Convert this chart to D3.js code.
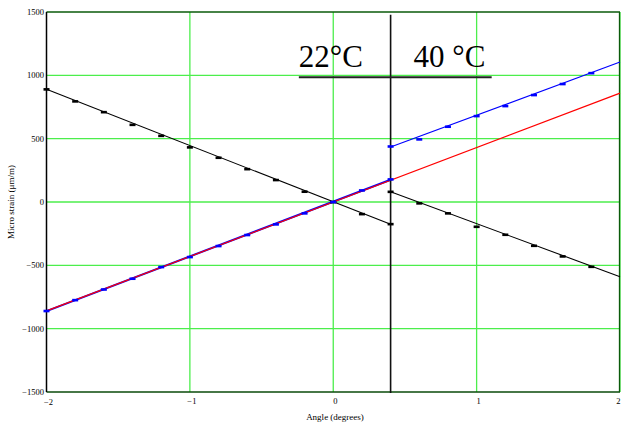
<!DOCTYPE html>
<html><head><meta charset="utf-8">
<script src="https://cdn.jsdelivr.net/npm/d3@7"></script>
<style>body{margin:0;background:#fff}svg{display:block}text{font-family:"Liberation Serif","Times New Roman",serif}</style>
</head><body><svg id="c" width="621" height="423"></svg>
<script>
// ---- data ----
const xTicks = [-2, -1, 0, 1, 2];
const yTicks = [-1500, -1000, -500, 0, 500, 1000, 1500];
const angles22 = [-2, -1.8, -1.6, -1.4, -1.2, -1, -0.8, -0.6, -0.4, -0.2, 0, 0.2, 0.4];
const black22 = [890, 795, 710, 610, 523, 432, 350, 260, 174, 82, 0, -95, -174];
const blue22 = [-860, -774, -690, -605, -513, -434, -347, -260, -176, -89, 0, 92, 179];
const angles40 = [0.4, 0.6, 0.8, 1.0, 1.2, 1.4, 1.6, 1.8];
const black40 = [81, -10, -89, -195, -258, -345, -429, -511];
const blue40 = [439, 495, 595, 679, 758, 845, 932, 1018];
// fitted lines: [x0, y0, x1, y1]
const fitBlack22 = [-2, 890, 0.4, -176];
const fitBlue22 = [-2, -862, 0.4, 176];
const fitBlack40 = [0.4, 81, 2, -590];
const fitBlue40 = [0.4, 434, 2, 1105];
const fitRed = [-2, -860, 2, 860];
const dividerX = 0.4, dividerTop = 1478;
const underline = [-0.24, 1.105, 985];
const labels = [{t: "22°C", x: -0.24, y: 1065}, {t: "40 °C", x: 0.56, y: 1065}];

// ---- layout ----
const svg = d3.select("#c");
const L = 46.5, R = 620, T = 12, B = 392;
const x = d3.scaleLinear().domain([-2, 2]).range([L, R]);
const y = d3.scaleLinear().domain([-1500, 1500]).range([B, T]);

// grid
const g = svg.append("g");
g.selectAll(".gx").data(xTicks.slice(1)).enter().append("line")
  .attr("x1", d => x(d)).attr("x2", d => x(d)).attr("y1", T).attr("y2", B)
  .attr("stroke", "#4cee4c").attr("stroke-width", 1.3);
g.selectAll(".gy").data(yTicks.slice(1, -1)).enter().append("line")
  .attr("x1", L).attr("x2", R).attr("y1", d => y(d)).attr("y2", d => y(d))
  .attr("stroke", "#4cee4c").attr("stroke-width", 1.3);
// frame
svg.append("line").attr("x1", L).attr("x2", R).attr("y1", T).attr("y2", T).attr("stroke", "#0a5a0a").attr("stroke-width", 1.3);
svg.append("line").attr("x1", L).attr("x2", R).attr("y1", B).attr("y2", B).attr("stroke", "#0a4a0a").attr("stroke-width", 1.5);
svg.append("line").attr("x1", R - 0.5).attr("x2", R - 0.5).attr("y1", T).attr("y2", B).attr("stroke", "#0a5a0a").attr("stroke-width", 1.3);
svg.append("line").attr("x1", L).attr("x2", L).attr("y1", T).attr("y2", B).attr("stroke", "#000").attr("stroke-width", 1.5);

// axis labels (ticks)
const fmt = d => (d < 0 ? "\u2212" : "") + Math.abs(d);
svg.selectAll(".yl").data(yTicks).enter().append("text")
  .attr("x", 44).attr("y", d => y(d) + 3).attr("text-anchor", "end")
  .attr("font-size", 8.5).attr("fill", "#000").text(fmt);
svg.selectAll(".xl").data(xTicks).enter().append("text")
  .attr("x", d => d === 2 ? 620.5 : x(d) + 2).attr("y", d => d === -2 ? 405 : 404)
  .attr("text-anchor", d => d === 2 ? "end" : "middle")
  .attr("font-size", 8.5).attr("fill", "#000").text(fmt);
svg.append("text").attr("x", 335).attr("y", 420).attr("text-anchor", "middle")
  .attr("font-size", 9).text("Angle (degrees)");
svg.append("text").attr("transform", "translate(14,202) rotate(-90)").attr("text-anchor", "middle")
  .attr("font-size", 9).text("Micro strain (\u03bcm/m)");

// lines
const seg = (f, c, w) => svg.append("line").attr("x1", x(f[0])).attr("y1", y(f[1]))
  .attr("x2", x(f[2])).attr("y2", y(f[3])).attr("stroke", c).attr("stroke-width", w);
seg(fitBlack22, "#000", 1.1);
seg(fitBlack40, "#000", 1.1);
seg(fitBlue22, "#0000ff", 2);
seg(fitBlue40, "#0000ff", 1.2);
seg(fitRed, "#ff0000", 1.2);

// divider
svg.append("line").attr("x1", x(dividerX)).attr("x2", x(dividerX)).attr("y1", y(dividerTop)).attr("y2", B + 1)
  .attr("stroke", "#111").attr("stroke-width", 1.6);

// markers
const marks = (xs, ys, c) => svg.append("g").selectAll("rect").data(xs).enter().append("rect")
  .attr("x", (d) => x(d) - 3).attr("y", (d, i) => y(ys[i]) - 1.2).attr("width", 6).attr("height", 2.6).attr("fill", c);
marks(angles22, black22, "#000");
marks(angles40, black40, "#000");
marks(angles22, blue22, "#0000ff");
marks(angles40, blue40, "#0000ff");

// annotations
svg.append("line").attr("x1", x(underline[0])).attr("x2", x(underline[1]))
  .attr("y1", y(underline[2])).attr("y2", y(underline[2])).attr("stroke", "#222").attr("stroke-width", 2);
svg.selectAll(".lab").data(labels).enter().append("text")
  .attr("x", d => x(d.x)).attr("y", d => y(d.y)).attr("font-size", 31).attr("fill", "#000").text(d => d.t);
</script></body></html>
